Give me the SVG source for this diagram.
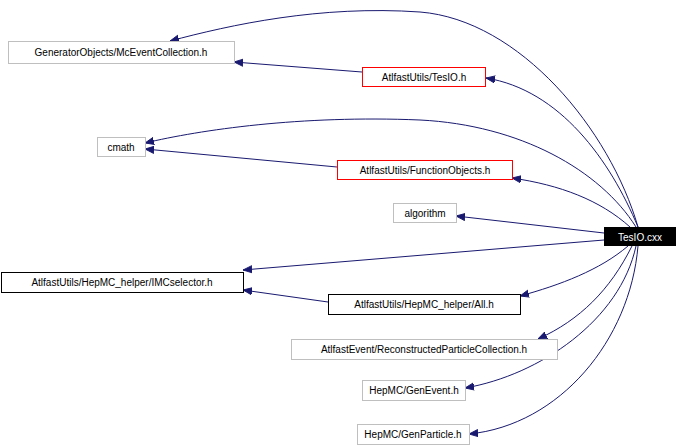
<svg xmlns="http://www.w3.org/2000/svg" width="677" height="445" viewBox="0 0 677 445">
<style>
text{font-family:"Liberation Sans",Arial,sans-serif;font-size:10px;text-anchor:middle;fill:#000}
.g{fill:#fff;stroke:#bfbfbf}.r{fill:#fff;stroke:#ff0000}.b{fill:#fff;stroke:#000}
.e{fill:none;stroke:#191970;stroke-width:1}
</style>
<defs><marker id="a" viewBox="0 0 10 10" refX="10" refY="5" markerWidth="9" markerHeight="9" orient="auto" markerUnits="userSpaceOnUse"><path d="M0,1L10,5L0,9z" fill="#191970" stroke="#191970"/></marker></defs>
<g id="connectors">
<path class="e" marker-end="url(#a)" d="M638,227C610,130 520,20 420,12C320,5 230,25 170,41"/>
<path class="e" marker-end="url(#a)" d="M638,227C610,160 560,90 486,78"/>
<path class="e" marker-end="url(#a)" d="M362,72L234,62"/>
<path class="e" marker-end="url(#a)" d="M636,227C600,170 520,125 420,120C300,115 200,130 145,143"/>
<path class="e" marker-end="url(#a)" d="M337,167L145,149"/>
<path class="e" marker-end="url(#a)" d="M630,227C600,200 560,185 512,178"/>
<path class="e" marker-end="url(#a)" d="M604,233L456,216"/>
<path class="e" marker-end="url(#a)" d="M604,240L243,270"/>
<path class="e" marker-end="url(#a)" d="M328,302L243,290"/>
<path class="e" marker-end="url(#a)" d="M628,246C600,270 560,285 520,296"/>
<path class="e" marker-end="url(#a)" d="M632,246C610,290 580,320 538,339"/>
<path class="e" marker-end="url(#a)" d="M636,246C620,320 540,375 465,388"/>
<path class="e" marker-end="url(#a)" d="M638,246C630,340 560,425 469,434"/>
</g>
<g id="n1"><rect class="g" x="8.5" y="41.5" width="226" height="22"/><text x="121" y="56">GeneratorObjects/McEventCollection.h</text></g>
<g id="n2"><rect class="r" x="362.5" y="67.5" width="123" height="19"/><text x="424" y="81">AtlfastUtils/TesIO.h</text></g>
<g id="n3"><rect class="g" x="97.5" y="137.5" width="48" height="19"/><text x="121" y="151">cmath</text></g>
<g id="n4"><rect class="r" x="337.5" y="160.5" width="175" height="19"/><text x="425" y="174">AtlfastUtils/FunctionObjects.h</text></g>
<g id="n5"><rect class="g" x="393.5" y="203.5" width="63" height="19"/><text x="425" y="217">algorithm</text></g>
<g id="n6"><rect x="604" y="227" width="72" height="19" fill="#000"/><text x="640" y="241" style="fill:#fff">TesIO.cxx</text></g>
<g id="n7"><rect class="b" x="1.5" y="272.5" width="242" height="20"/><text x="122" y="286">AtlfastUtils/HepMC_helper/IMCselector.h</text></g>
<g id="n8"><rect class="b" x="328.5" y="294.5" width="192" height="20"/><text x="424" y="308">AtlfastUtils/HepMC_helper/All.h</text></g>
<g id="n9"><rect class="g" x="291.5" y="339.5" width="266" height="20"/><text x="424" y="353">AtlfastEvent/ReconstructedParticleCollection.h</text></g>
<g id="n10"><rect class="g" x="362.5" y="380.5" width="103" height="20"/><text x="414" y="394">HepMC/GenEvent.h</text></g>
<g id="n11"><rect class="g" x="357.5" y="424.5" width="112" height="20"/><text x="413" y="438">HepMC/GenParticle.h</text></g>
</svg>
